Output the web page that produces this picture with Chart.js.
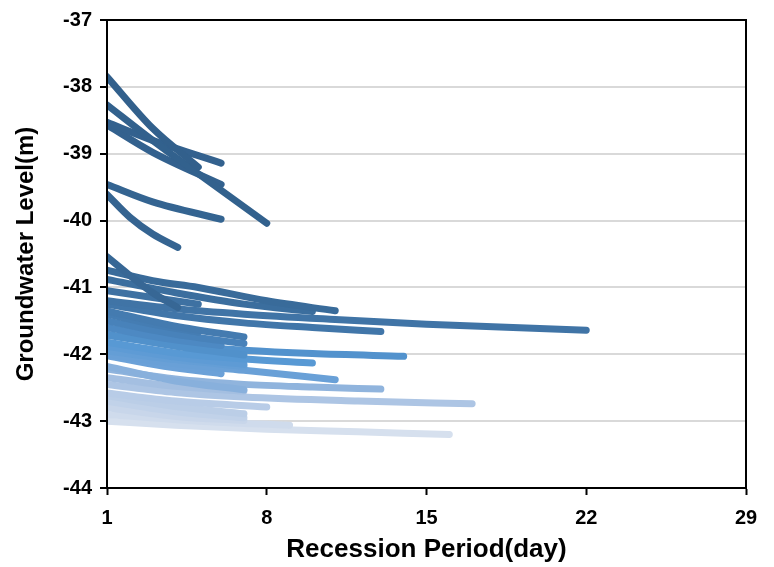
<!DOCTYPE html>
<html>
<head>
<meta charset="utf-8">
<script src="https://cdn.jsdelivr.net/npm/chart.js@4/dist/chart.umd.min.js"></script>
<style>
  html, body { margin: 0; padding: 0; background: #fff; }
  #wrap { width: 774px; height: 567px; }
</style>
</head>
<body>
<div id="wrap"><canvas id="recession"></canvas></div>
<script>
// recession curves: day of recession and groundwater level (m) for each event
const recessionDays = [
    [1, 3, 5],
    [1, 3, 5, 8],
    [1, 3, 6],
    [1, 3, 6],
    [1, 3, 6],
    [1, 2, 3, 4.1],
    [1, 2, 3, 4.1],
    [1, 3, 5, 8, 11],
    [1, 4, 7, 10],
    [1, 3, 5],
    [1, 4, 7, 11, 15, 22],
    [1, 4, 7, 10, 13],
    [1, 4, 7],
    [1, 3, 5],
    [1, 4, 7],
    [1, 3.5, 6],
    [1, 4, 7],
    [1, 4, 7, 10, 14],
    [1, 4, 7, 10],
    [1, 4, 7],
    [1, 4, 7],
    [1, 4, 7, 11],
    [1, 3.5, 6],
    [1, 4, 7],
    [1, 4, 7, 10, 13],
    [1, 4, 7],
    [1, 4, 7, 12, 17],
    [1, 4, 8],
    [1, 4, 7],
    [1, 4, 7],
    [1, 4, 7],
    [1, 5, 9],
    [1, 4, 8, 12, 16]
];
const recessionLevels = [
    [-37.85, -38.62, -39.20],
    [-38.27, -38.80, -39.30, -40.04],
    [-38.53, -38.80, -39.14],
    [-38.57, -38.98, -39.46],
    [-39.46, -39.72, -39.98],
    [-39.61, -39.95, -40.20, -40.40],
    [-40.54, -40.82, -41.08, -41.30],
    [-40.74, -40.90, -41.00, -41.20, -41.35],
    [-40.88, -41.08, -41.25, -41.36],
    [-41.05, -41.15, -41.25],
    [-41.20, -41.32, -41.40, -41.48, -41.55, -41.64],
    [-41.25, -41.42, -41.53, -41.60, -41.66],
    [-41.35, -41.58, -41.74],
    [-41.40, -41.55, -41.67],
    [-41.50, -41.70, -41.84],
    [-41.60, -41.76, -41.87],
    [-41.70, -41.88, -42.01],
    [-41.72, -41.86, -41.94, -41.99, -42.03],
    [-41.82, -41.98, -42.07, -42.13],
    [-41.88, -42.04, -42.15],
    [-41.95, -42.08, -42.18],
    [-42.00, -42.14, -42.24, -42.38],
    [-42.02, -42.18, -42.29],
    [-42.18, -42.40, -42.53],
    [-42.22, -42.37, -42.45, -42.49, -42.52],
    [-42.35, -42.48, -42.55],
    [-42.45, -42.57, -42.64, -42.70, -42.74],
    [-42.58, -42.70, -42.79],
    [-42.62, -42.78, -42.89],
    [-42.70, -42.86, -42.95],
    [-42.80, -42.93, -42.99],
    [-42.90, -43.00, -43.06],
    [-43.00, -43.06, -43.12, -43.16, -43.20]
];
const dayTicks = [1, 8, 15, 22, 29];
const levelTicks = [-44, -43, -42, -41, -40, -39, -38, -37];

// colour goes from dark steel blue (high levels) to pale blue (low levels)
const colourStops = [
    [-38.0, [50, 96, 140]],
    [-40.5, [54, 102, 148]],
    [-41.2, [64, 116, 166]],
    [-41.5, [72, 130, 186]],
    [-41.8, [86, 152, 212]],
    [-42.05, [110, 162, 216]],
    [-42.3, [160, 188, 224]],
    [-42.6, [186, 205, 231]],
    [-43.0, [214, 224, 238]]
];

function levelColour(level) {
    if (level >= colourStops[0][0]) return 'rgb(' + colourStops[0][1].join(',') + ')';
    for (let i = 1; i < colourStops.length; i++) {
        const [l0, c0] = colourStops[i - 1];
        const [l1, c1] = colourStops[i];
        if (level >= l1) {
            const t = (l0 - level) / (l0 - l1);
            const c = c0.map((v, k) => Math.round(v + (c1[k] - v) * t));
            return 'rgb(' + c.join(',') + ')';
        }
    }
    return 'rgb(' + colourStops[colourStops.length - 1][1].join(',') + ')';
}

const datasets = recessionDays.map((days, i) => ({
    data: days.map((d, j) => ({ x: d, y: recessionLevels[i][j] })),
    borderColor: levelColour(recessionLevels[i][0]),
    borderWidth: 7,
    borderCapStyle: 'round',
    borderJoinStyle: 'round',
    pointRadius: 0,
    showLine: true,
    cubicInterpolationMode: 'monotone'
}));

// black frame around the plot area
const framePlugin = {
    id: 'frame',
    afterDraw(chart) {
        const a = chart.chartArea;
        const ctx = chart.ctx;
        ctx.save();
        ctx.strokeStyle = '#000';
        ctx.lineWidth = 2;
        ctx.strokeRect(a.left, a.top, a.right - a.left, a.bottom - a.top);
        ctx.restore();
    }
};

const tickFont = { family: '"Liberation Sans", Arial, sans-serif', size: 20, weight: 'bold' };
const xTitleFont = { family: '"Liberation Sans", Arial, sans-serif', size: 26, weight: 'bold' };
const yTitleFont = { family: '"Liberation Sans", Arial, sans-serif', size: 24, weight: 'bold' };

new Chart(document.getElementById('recession'), {
    type: 'scatter',
    data: { datasets: datasets },
    options: {
        responsive: true,
        maintainAspectRatio: false,
        animation: false,
        layout: { padding: { left: 0, right: 28, top: 18, bottom: 0 } },
        plugins: {
            legend: { display: false },
            tooltip: { enabled: false }
        },
        scales: {
            x: {
                type: 'linear',
                min: 1,
                max: 29,
                afterBuildTicks: s => { s.ticks = dayTicks.map(v => ({ value: v })); },
                afterFit: s => { s.height = 79; },
                grid: { drawOnChartArea: false, tickLength: 7, tickColor: '#000', tickWidth: 2 },
                border: { color: '#000', width: 2 },
                ticks: { color: '#000', font: tickFont, padding: 11, maxRotation: 0 },
                title: { display: true, text: 'Recession Period(day)', color: '#000', font: xTitleFont, padding: { top: 0, bottom: 2 } }
            },
            y: {
                min: -44,
                max: -37,
                afterBuildTicks: s => { s.ticks = levelTicks.map(v => ({ value: v })); },
                afterFit: s => { s.width = 107; },
                grid: { color: '#d9d9d9', lineWidth: 2, tickLength: 7, tickColor: '#000', tickWidth: 2 },
                border: { color: '#000', width: 2 },
                ticks: { color: '#000', font: tickFont, padding: 8 },
                title: { display: true, text: 'Groundwater Level(m)', color: '#000', font: yTitleFont, padding: { top: 12, bottom: 0 } }
            }
        }
    },
    plugins: [framePlugin]
});
</script>
</body>
</html>
